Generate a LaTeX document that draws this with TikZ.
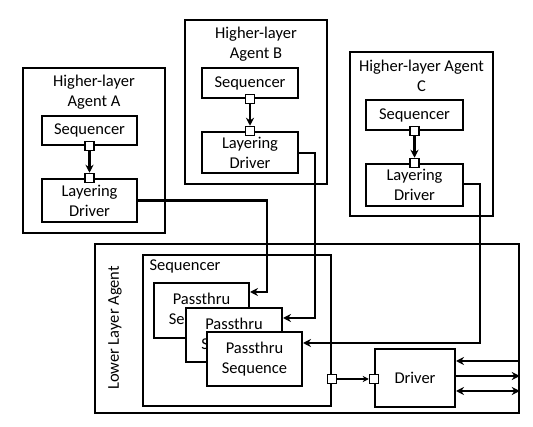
\documentclass[tikz,border=0pt]{standalone}
\usepackage{fontspec}
\setmainfont{Carlito}
\usetikzlibrary{arrows.meta}

\begin{document}
\begin{tikzpicture}[x=1pt, y=-1pt,
    every node/.style={font=\fontsize{16.5}{20}\selectfont},
    box/.style={draw, line width=2pt, fill=white, inner sep=0pt, align=center},
    port/.style={draw, line width=1.5pt, fill=white, minimum size=9pt, inner sep=0pt},
    link/.style={line width=2.2pt, -{Stealth[length=8pt,width=8pt]}}]
  \useasboundingbox (0,0) rectangle (533,427);

  % Agentes superiores
  \node[box, minimum width=142pt, minimum height=165pt] (agA) at (94,150.5) {};
  \node[align=center] (titA) at (94,92) {Higher-layer\\Agent A};
  \node[box, minimum width=95pt, minimum height=29pt] (seqA) at (89.5,130.5) {Sequencer};
  \node[box, minimum width=95pt, minimum height=43pt] (ldA) at (89.5,200.5) {Layering\\Driver};
  \node[port] (pa1) at (seqA.south) {};
  \node[port] (pa2) at (ldA.north) {};

  \node[box, minimum width=142pt, minimum height=164pt] (agB) at (256,102) {};
  \node[align=center] (titB) at (256,44) {Higher-layer\\Agent B};
  \node[box, minimum width=96pt, minimum height=30pt] (seqB) at (250,83) {Sequencer};
  \node[box, minimum width=96pt, minimum height=41pt] (ldB) at (250,152.5) {Layering\\Driver};
  \node[port] (pb1) at (seqB.south) {};
  \node[port] (pb2) at (ldB.north) {};

  \node[box, minimum width=143pt, minimum height=164pt] (agC) at (421.5,134) {};
  \node[align=center] (titC) at (421.5,76) {Higher-layer Agent\\C};
  \node[box, minimum width=97pt, minimum height=30pt] (seqC) at (414.5,115) {Sequencer};
  \node[box, minimum width=97pt, minimum height=42pt] (ldC) at (414.5,185) {Layering\\Driver};
  \node[port] (pc1) at (seqC.south) {};
  \node[port] (pc2) at (ldC.north) {};

  % Agente inferior
  \node[box, line width=1.5pt, minimum width=424pt, minimum height=169pt] (low) at (307,328.5) {};
  \node[rotate=90] (lowlab) at (115,328) {Lower Layer Agent};
  \node[box, minimum width=188pt, minimum height=151pt] (seqL) at (237,330.5) {};
  \node[anchor=north west] (seqlab) at (146,256) {Sequencer};
  \node[box, minimum width=95pt, minimum height=55pt] (p1) at (201.5,310.5) {Passthru\\Sequence};
  \node[box, minimum width=96pt, minimum height=54pt] (p2) at (234,335) {Passthru\\Sequence};
  \node[box, minimum width=95pt, minimum height=54pt] (p3) at (254.5,359) {Passthru\\Sequence};
  \node[box, minimum width=80pt, minimum height=58pt] (drv) at (415,378) {Driver};
  \node[port] (sp) at (seqL.east |- 0,379) {};
  \node[port] (dp) at (drv.west |- 0,379) {};

  \coordinate (inA) at (p1.east |- 0,292);
  \coordinate (inB) at (p2.east |- 0,318);
  \coordinate (inC) at (p3.east |- 0,343);
  \coordinate (o1) at (low.east |- 0,361);
  \coordinate (o2) at (low.east |- 0,376);
  \coordinate (o3) at (low.east |- 0,391);

  % Conexiones
  \draw[link] (pa1) -- (pa2);
  \draw[link] (pb1) -- (pb2);
  \draw[link] (pc1) -- (pc2);
  \draw[link] (ldA.east) -| (267,292) -- (inA);
  \draw[link] (ldB.east |- 0,153) -| (315,318) -- (inB);
  \draw[link] (ldC.east |- 0,184) -| (480,343) -- (inC);
  \draw[link, line width=1.5pt, -{Stealth[length=6pt,width=6pt]}] (sp) -- (dp);
  \draw[link] (o1) -- (drv.east |- o1);
  \draw[link] (drv.east |- o2) -- (o2);
  \draw[link, {Stealth[length=8pt,width=8pt]}-{Stealth[length=8pt,width=8pt]}] (drv.east |- o3) -- (o3);
\end{tikzpicture}
\end{document}
